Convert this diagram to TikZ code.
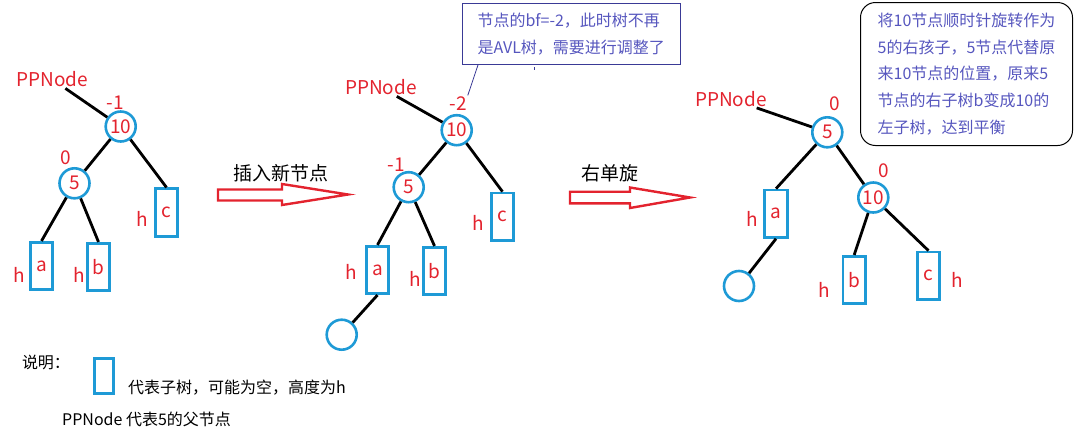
\documentclass[tikz,border=0pt]{standalone}
\usepackage{fontspec}
\setmainfont{Noto Sans CJK SC}
\usepackage{xcolor}
\usepackage{tikz}
\usetikzlibrary{positioning, calc}

\definecolor{treeblue}{HTML}{1E9AD6}
\definecolor{labred}{HTML}{E3232E}
\definecolor{notepurple}{HTML}{5656BE}
\definecolor{noteframe}{HTML}{3A3A96}
\newcommand{\bigtxt}{\fontsize{19}{22}\selectfont}
\newcommand{\smalltxt}{\fontsize{16}{19}\selectfont}

\begin{document}
\begin{tikzpicture}[x=1pt, y=-1pt, every node/.style={inner sep=1pt},
    tn/.style={draw=treeblue, circle, line width=2.6pt, minimum size=30pt, inner sep=0pt, text=labred, font=\bigtxt},
    subtree/.style={draw=treeblue, line width=2.6pt, minimum width=22.5pt, minimum height=47.5pt, inner sep=0pt, text=labred, font=\bigtxt},
    lbl/.style={text=labred, font=\bigtxt},
    branch/.style={line width=2.8pt, black},
    fat/.style={draw=labred, line width=2.4pt, line join=miter},
    note/.style={align=left, line width=1pt, text=notepurple, font=\fontsize{16}{26.8}\selectfont}]
      \useasboundingbox (0,0) rectangle (1080,437);

      % Before inserting
      \node[lbl] (pp1) at (52.5,79.5) {PPNode};
      \node[tn] (t1n10) at (120.7,126.5) {10};
      \node[tn] (t1n5) at (74.5,183.3) {5};
      \node[subtree] (t1a) at (41.5,266) {a};
      \node[subtree] (t1b) at (98.5,267) {b};
      \node[subtree] (t1c) at (166.5,212.5) {c};
      \node[lbl] (t1bf10) at (115.5,103) {-1};
      \node[lbl] (t1bf5) at (65.5,157.5) {0};
      \node[lbl] (t1ha) at (19,274.5) {h};
      \node[lbl] (t1hb) at (79,274.5) {h};
      \node[lbl] (t1hc) at (142,218.5) {h};

      \draw[branch] (pp1) -- (t1n10);
      \draw[branch] (t1n10) -- (t1n5);
      \draw[branch] (t1n10) -- (t1c.north);
      \draw[branch] (t1n5) -- (t1a.north);
      \draw[branch] (t1n5) -- (t1b.north);

      % Insert arrow
      \draw[fat] (218,189.5) -- (282,189.5) -- (282,184) -- (348,194.5) -- (282,205) -- (282,200.5) -- (218,200.5) -- cycle;
      \node[font=\bigtxt] (insert) at (280.5,173.5) {插入新节点};

      % After inserting
      \node[lbl] (pp2) at (381,87.5) {PPNode};
      \node[tn] (t2n10) at (456.7,130.2) {10};
      \node[tn] (t2n5) at (408.7,187.2) {5};
      \node[subtree] (t2a) at (377.5,270) {a};
      \node[subtree] (t2b) at (434.5,271) {b};
      \node[subtree] (t2c) at (502.5,216.7) {c};
      \node[tn] (t2nil) at (341.7,334.7) {};
      \node[lbl] (t2bf10) at (458,103.5) {-2};
      \node[lbl] (t2bf5) at (396.5,165) {-1};
      \node[lbl] (t2ha) at (351,271.5) {h};
      \node[lbl] (t2hb) at (415,279) {h};
      \node[lbl] (t2hc) at (478,222.5) {h};

      \draw[branch] (pp2) -- (t2n10);
      \draw[branch] (t2n10) -- (t2n5);
      \draw[branch] (t2n10) -- (t2c.north);
      \draw[branch] (t2n5) -- (t2a.north);
      \draw[branch] (t2n5) -- (t2b.north);
      \draw[branch] (t2a.south) -- (t2nil);

      \node[note, draw=noteframe, minimum width=218.5pt, minimum height=61pt, anchor=north west] (bfnote) at (461.5,3) {节点的bf=-2，此时树不再\\是AVL树，需要进行调整了};
      \draw[noteframe, line width=0.8pt] ([xshift=16.5pt]bfnote.south west) -- (t2bf10.north east);
      \fill[noteframe] (533.5,66.5) rectangle (534.5,69.5);

      % Rotate arrow
      \draw[fat] (570,191.7) -- (630,191.7) -- (630,187.5) -- (690,197.5) -- (630,208) -- (630,203.3) -- (570,203.3) -- cycle;
      \node[font=\bigtxt] (rotate) at (610,173.5) {右单旋};

      % After rotation
      \node[lbl] (pp3) at (731,99) {PPNode};
      \node[tn] (t3n5) at (827.3,132.3) {5};
      \node[tn] (t3n10) at (873.3,197.5) {10};
      \node[subtree] (t3a) at (776,213.7) {a};
      \node[subtree] (t3b) at (854.2,280) {b};
      \node[subtree] (t3c) at (928.5,275.7) {c};
      \node[tn] (t3nil) at (739,286) {};
      \node[lbl] (t3bf5) at (835,103.5) {0};
      \node[lbl] (t3bf10) at (883.5,170.5) {0};
      \node[lbl] (t3ha) at (752,219) {h};
      \node[lbl] (t3hb) at (824.5,290) {h};
      \node[lbl] (t3hc) at (957.5,279.5) {h};

      \draw[branch] (pp3) -- (t3n5);
      \draw[branch] (t3n5) -- (t3a.north);
      \draw[branch] (t3n5) -- (t3n10);
      \draw[branch] (t3n10) -- (t3b.north);
      \draw[branch] (t3n10) -- (t3c.north);
      \draw[branch] (t3a.south) -- (t3nil);

      \node[note, draw=black, rounded corners=15pt, minimum width=212pt, minimum height=143pt, anchor=north west] (rotnote) at (860,2) {将10节点顺时针旋转作为\\5的右孩子，5节点代替原\\来10节点的位置，原来5\\节点的右子树b变成10的\\左子树，达到平衡};

      % Legend
      \node[font=\smalltxt] (legtitle) at (46,362) {说明：};
      \node[subtree, minimum width=19.5pt, minimum height=35.5pt] (legbox) at (104,376) {};
      \node[font=\smalltxt, anchor=west] (legsub) at (127,388) {代表子树，可能为空，高度为h};
      \node[font=\smalltxt, anchor=west] (legpp) at (61,419) {PPNode 代表5的父节点};
    \end{tikzpicture}
\end{document}
